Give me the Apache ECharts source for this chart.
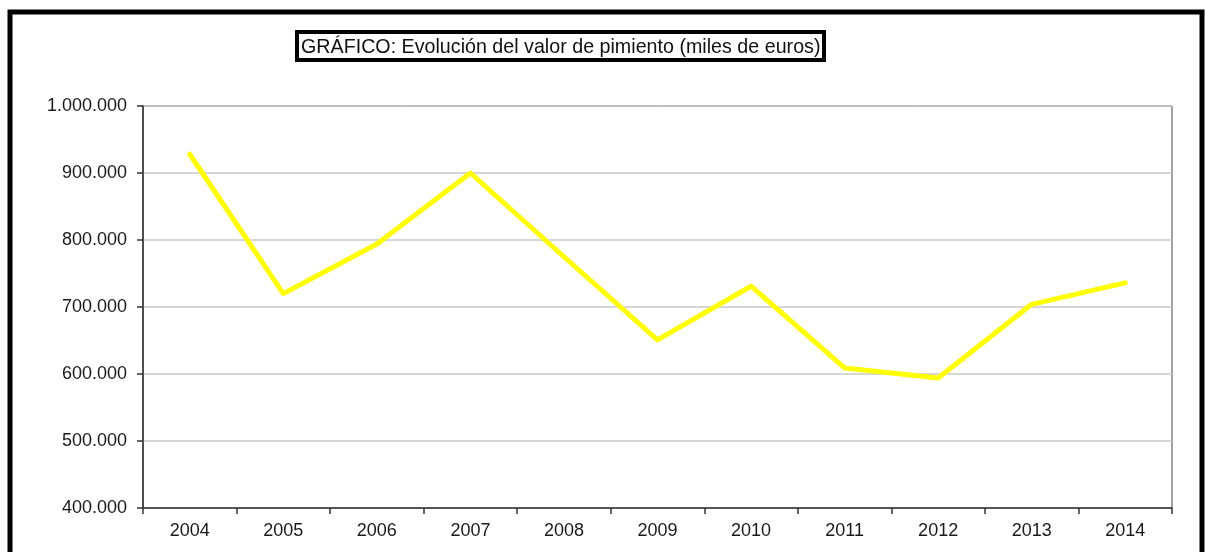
<!DOCTYPE html>
<html>
<head>
<meta charset="utf-8">
<script src="https://cdn.jsdelivr.net/npm/echarts@6/dist/echarts.min.js"></script>
<style>html,body{margin:0;padding:0;background:#fff;}#c{width:1205px;height:552px;}</style>
</head>
<body>
<div id="c"></div>
<script>
var titleText = 'GRÁFICO: Evolución del valor de pimiento (miles de euros)';
var years = ['2004','2005','2006','2007','2008','2009','2010','2011','2012','2013','2014'];
var values = [928000, 720000, 794000, 900000, 775000, 651000, 731000, 609000, 594000, 704000, 736000];
var yMin = 400000, yMax = 1000000, yStep = 100000;

function fmt(v){ return String(v).replace(/\B(?=(\d{3})+(?!\d))/g, '.'); }

var chart = echarts.init(document.getElementById('c'), null, {renderer:'canvas'});
chart.setOption({
  animation:false,
  backgroundColor:'#fff',
  graphic:[
    {type:'rect', shape:{x:10, y:12, width:1192, height:560},
     style:{fill:'none', stroke:'#000', lineWidth:5}, silent:true},
    {type:'rect', shape:{x:297, y:32, width:527, height:28},
     style:{fill:'#fff', stroke:'#000', lineWidth:4}, silent:true},
    {type:'text', x:301, y:47, scaleX:0.937, originX:0, originY:0,
     style:{text:titleText, fontFamily:'Liberation Sans', fontSize:21, fill:'#111',
            textAlign:'left', verticalAlign:'middle'}, silent:true}
  ],
  grid:{left:143, right:33, top:106, bottom:44, show:true, borderColor:'#444', borderWidth:1},
  xAxis:{
    type:'category', data:years, boundaryGap:true,
    axisLine:{lineStyle:{color:'#333', width:1.5}},
    axisTick:{show:true, length:6, lineStyle:{color:'#333', width:1.5}},
    axisLabel:{fontFamily:'Liberation Sans', fontSize:18, color:'#1a1a1a', margin:14}
  },
  yAxis:{
    type:'value', min:yMin, max:yMax, interval:yStep,
    axisLine:{show:true, lineStyle:{color:'#333', width:1.5}},
    axisTick:{show:true, length:6, lineStyle:{color:'#333', width:1.5}},
    splitLine:{lineStyle:{color:'#c8c8c8', width:1.5}},
    axisLabel:{fontFamily:'Liberation Sans', fontSize:18, color:'#1a1a1a', margin:16, formatter:fmt}
  },
  series:[{
    type:'line', data:values, symbol:'none',
    lineStyle:{color:'#ffff00', width:5, cap:'round', join:'round'}
  }]
});
</script>
</body>
</html>
